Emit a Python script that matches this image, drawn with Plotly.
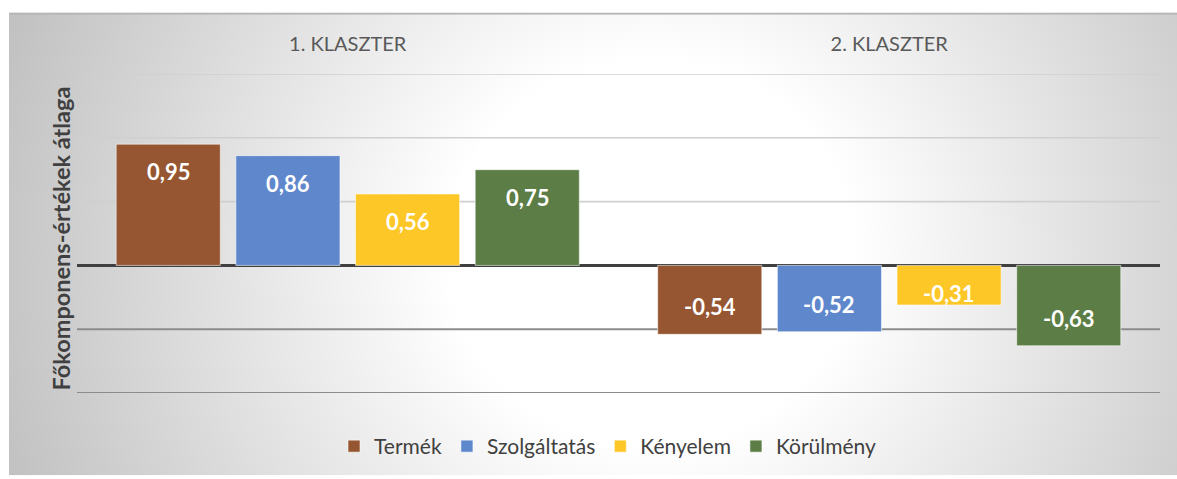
import base64
import plotly.graph_objects as go

# Cluster categories and per-dimension means of the principal component scores
clusters = ["1. KLASZTER", "2. KLASZTER"]
series_names = ["Termék", "Szolgáltatás", "Kényelem", "Körülmény"]
termek = [0.95, -0.54]
szolgaltatas = [0.86, -0.52]
kenyelem = [0.56, -0.31]
korulmeny = [0.75, -0.63]
series_values = [termek, szolgaltatas, kenyelem, korulmeny]
colors = ["#955631", "#5E87CC", "#FEC728", "#5C7E46"]

y_ticks = [1.5, 1.0, 0.5, -0.5, -1.0]
y_range = [-1.0, 1.5]

W, H = 1177, 479
M_L, M_R, M_T, M_B = 77, 17, 74, 83
plot_w = W - M_L - M_R
plot_h = H - M_T - M_B
px_per_unit = plot_h / (y_range[1] - y_range[0])

BARGAP = 0.116
BARGROUPGAP = 0.13
FONT = "Lato"


def fmt(v):
    return f"{v:.2f}".replace(".", ",")


fig = go.Figure()
for name, vals, col in zip(series_names, series_values, colors):
    fig.add_trace(go.Bar(
        x=clusters, y=vals, name=name,
        marker=dict(color=col, line=dict(color="rgba(255,255,255,0.55)", width=1)),
        hoverinfo="skip",
    ))

# value labels placed inside the bar ends
n = len(series_names)
slot = (1 - BARGAP) / n
annotations = []
for si, vals in enumerate(series_values):
    offset = (si - (n - 1) / 2) * slot
    for ci, v in enumerate(vals):
        length_px = abs(v) * px_per_unit
        d = min(27.5, length_px - 28)
        annotations.append(dict(
            x=ci + offset, y=v, xref="x", yref="y",
            text=f"<b>{fmt(v)}</b>", showarrow=False,
            yshift=-d if v > 0 else d,
            font=dict(family=FONT, size=22, color="white"),
        ))

# y axis title
annotations.append(dict(
    x=(61 - M_L) / plot_w, y=(H - M_B - 240) / plot_h, xref="paper", yref="paper",
    xanchor="center", yanchor="middle",
    text="<b>Főkomponens-értékek átlaga</b>", textangle=-90, showarrow=False,
    font=dict(family=FONT, size=23.5, color="#404040"),
))

# grid lines
shapes = []
for t in y_ticks:
    shapes.append(dict(
        type="line", xref="paper", yref="y", x0=0, x1=1, y0=t, y1=t,
        line=dict(color="#CFCFCF" if t > 0 else "#8C8C8C", width=1.6 if t > 0 else 2),
        layer="below",
    ))

# radial gradient chart-area background
svg = f"""<svg xmlns='http://www.w3.org/2000/svg' width='{W-9}' height='{H-12}' viewBox='0 0 {W-9} {H-12}' preserveAspectRatio='none'>
<defs><radialGradient id='g' cx='55%' cy='52%' r='62%' gradientTransform='translate(0.55 0.52) scale(1 2.4) translate(-0.55 -0.52)'>
<stop offset='0' stop-color='#ffffff'/><stop offset='0.28' stop-color='#ffffff'/>
<stop offset='1' stop-color='#bcbcbc'/></radialGradient></defs>
<rect width='100%' height='100%' fill='url(#g)'/>
<rect x='0' y='0' width='100%' height='2' fill='#b5b5b5'/>
</svg>"""
uri = "data:image/svg+xml;base64," + base64.b64encode(svg.encode()).decode()

fig.update_layout(
    width=W, height=H,
    margin=dict(l=M_L, r=M_R, t=M_T, b=M_B),
    paper_bgcolor="white", plot_bgcolor="rgba(0,0,0,0)",
    barmode="group", bargap=BARGAP, bargroupgap=BARGROUPGAP,
    font=dict(family=FONT, color="#404040"),
    images=[dict(
        source=uri, xref="paper", yref="paper",
        x=(9 - M_L) / plot_w, y=(H - M_B - 12) / plot_h,
        sizex=(W - 9) / plot_w, sizey=(H - 12) / plot_h,
        xanchor="left", yanchor="top", sizing="stretch", layer="below",
    )],
    xaxis=dict(
        side="top", showgrid=False, showline=False, ticks="",
        ticklabelstandoff=18,
        tickfont=dict(family=FONT, size=20, color="#595959"),
    ),
    yaxis=dict(
        range=y_range, showgrid=False, showticklabels=False, ticks="",
        zeroline=True, zerolinecolor="#404040", zerolinewidth=3,
    ),
    legend=dict(
        orientation="h", x=(608 - M_L) / plot_w, xanchor="center",
        y=(H - M_B - 450) / plot_h, yanchor="middle",
        font=dict(family=FONT, size=21, color="#404040"),
        bgcolor="rgba(0,0,0,0)", itemwidth=30, tracegroupgap=0,
    ),
    annotations=annotations,
    shapes=shapes,
)

fig.write_html("out.html")
